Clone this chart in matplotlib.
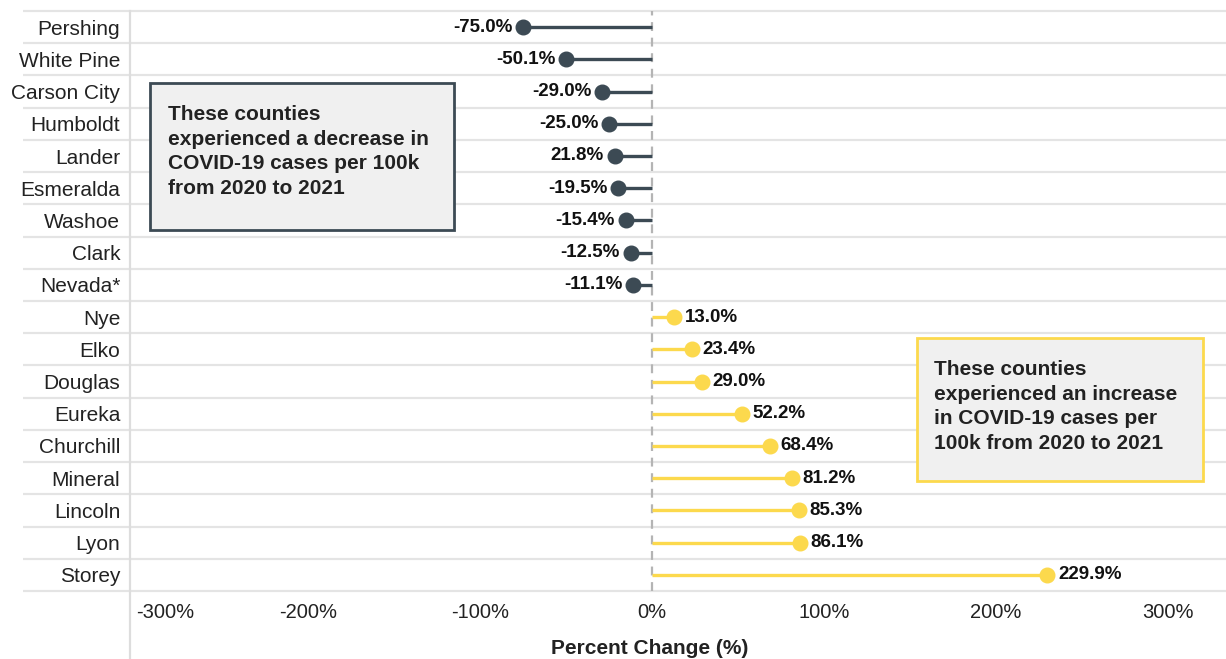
import matplotlib.pyplot as plt
from matplotlib.lines import Line2D
from matplotlib.patches import Rectangle

plt.rcParams['font.family'] = ['Liberation Sans', 'DejaVu Sans']

# data, top to bottom
counties = ['Pershing', 'White Pine', 'Carson City', 'Humboldt', 'Lander', 'Esmeralda',
            'Washoe', 'Clark', 'Nevada*', 'Nye', 'Elko', 'Douglas', 'Eureka', 'Churchill',
            'Mineral', 'Lincoln', 'Lyon', 'Storey']
pct_change = [-75.0, -50.1, -29.0, -25.0, -21.8, -19.5, -15.4, -12.5, -11.1,
              13.0, 23.4, 29.0, 52.2, 68.4, 81.2, 85.3, 86.1, 229.9]
value_labels = ['-75.0%', '-50.1%', '-29.0%', '-25.0%', '21.8%', '-19.5%', '-15.4%',
                '-12.5%', '-11.1%', '13.0%', '23.4%', '29.0%', '52.2%', '68.4%',
                '81.2%', '85.3%', '86.1%', '229.9%']
xticks = [-300, -200, -100, 0, 100, 200, 300]

DARK = '#3c4a54'
YELLOW = '#fcd94d'
GRID = '#e4e4e4'

W, H = 1226, 659
fig = plt.figure(figsize=(W / 100, H / 100), dpi=100)
ax = fig.add_axes([130 / W, (H - 591) / H, (W - 130) / W, (591 - 11) / H])

ypos = list(range(len(counties)))
for y, v in zip(ypos, pct_change):
    c = DARK if v < 0 else YELLOW
    ax.plot([0, v], [y, y], color=c, lw=2.4, solid_capstyle='butt', zorder=3)
    ax.plot(v, y, 'o', color=c, ms=10.5, zorder=4)

for y, v, lab in zip(ypos, pct_change, value_labels):
    if v < 0:
        ax.annotate(lab, (v, y), xytext=(-7.5, 0), textcoords='offset points',
                    ha='right', va='center', fontsize=13.5, fontweight='bold', color='#111111')
    else:
        ax.annotate(lab, (v, y), xytext=(7.5, 0), textcoords='offset points',
                    ha='left', va='center', fontsize=13.5, fontweight='bold', color='#111111')

ax.axvline(0, color='#b4b4b4', lw=1.6, ls=(0, (4, 3)), zorder=2)

# row separators reaching into the label column
ax.hlines([y - 0.5 for y in range(len(counties) + 1)], -(130 - 23) / (W - 130), 1,
          transform=ax.get_yaxis_transform(), color=GRID, lw=1.6, clip_on=False, zorder=1)

ax.set_xlim(-303.5, 333.7)
ax.set_ylim(len(counties) - 0.5, -0.5)
ax.set_yticks(ypos)
ax.set_yticklabels(counties, fontsize=15, color='#222222')
ax.set_xticks(xticks)
ax.set_xticklabels([f'{t}%' for t in xticks], fontsize=14.5, color='#222222')
ax.get_xticklabels()[0].set_horizontalalignment('left')
ax.tick_params(length=0)
ax.tick_params(axis='y', pad=7)
ax.tick_params(axis='x', pad=9)
for s in ax.spines.values():
    s.set_visible(False)

# left vertical rule down to the bottom
fig.add_artist(Line2D([130 / W, 130 / W], [0, (H - 11) / H], color='#dddddd', lw=1.6))

fig.text(650 / W, (H - 648) / H, 'Percent Change (%)', ha='center', va='center',
         fontsize=15, fontweight='bold', color='#222222')

# annotation boxes
fig.add_artist(Rectangle((150 / W, (H - 230) / H), 304 / W, 147 / H, transform=fig.transFigure,
                         facecolor='#f0f0f0', edgecolor=DARK, lw=2, zorder=5))
fig.text(168 / W, (H - 105) / H,
         'These counties\nexperienced a decrease in\nCOVID-19 cases per 100k\nfrom 2020 to 2021',
         ha='left', va='top', fontsize=15, fontweight='bold', color='#222222', zorder=6,
         linespacing=1.38)

fig.add_artist(Rectangle((917 / W, (H - 481) / H), 286 / W, 143 / H, transform=fig.transFigure,
                         facecolor='#f0f0f0', edgecolor=YELLOW, lw=2, zorder=5))
fig.text(934 / W, (H - 360) / H,
         'These counties\nexperienced an increase\nin COVID-19 cases per\n100k from 2020 to 2021',
         ha='left', va='top', fontsize=15, fontweight='bold', color='#222222', zorder=6,
         linespacing=1.38)

fig.savefig('out.png', dpi=100)
